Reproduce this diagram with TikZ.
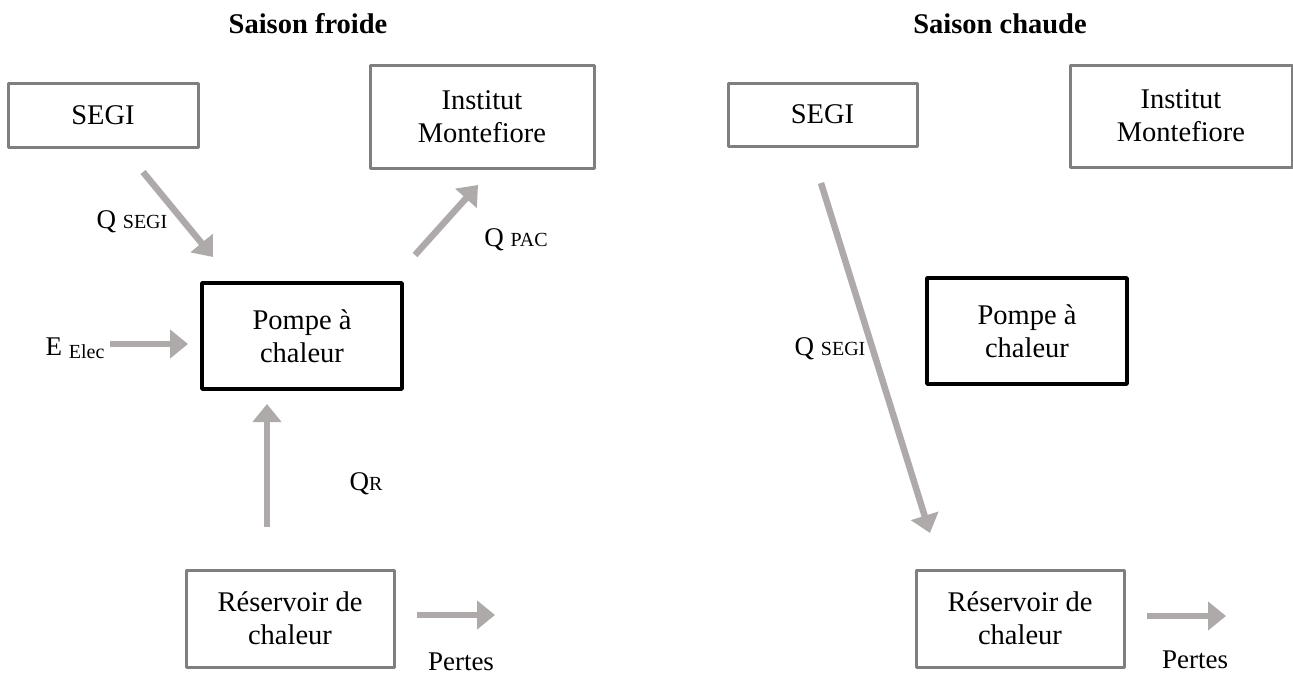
\documentclass[tikz,border=0pt]{standalone}
\usepackage{fontspec}
\setmainfont{Liberation Serif}
\usetikzlibrary{arrows.meta}
\definecolor{frame}{RGB}{127,127,127}
\definecolor{flowgray}{RGB}{174,170,170}
\newcommand{\subtxt}[1]{{\fontsize{20}{22}\selectfont #1}}
\tikzset{
  box/.style={draw=#1,line width=3pt,line join=round,align=center,inner sep=0pt,
    font=\fontsize{28.5}{33}\selectfont},
  box/.default=frame,
  flow/.style={-{Triangle[length=18pt,width=28pt]},line width=6.5pt,draw=flowgray},
  tag/.style={anchor=base,font=\fontsize{27}{30}\selectfont},
  heading/.style={anchor=base,font=\fontsize{28.5}{33}\selectfont\bfseries},
}

\begin{document}
\begin{tikzpicture}[x=1pt,y=-1pt]
    \useasboundingbox (0,0) rectangle (1293,675);
    % cold season
    \node[heading] (tcold) at (308,33) {Saison froide};
    \node[box,minimum width=190pt,minimum height=64pt] (segiA) at (103,115) {SEGI};
    \node[box,minimum width=224pt,minimum height=103pt] (instA) at (482,116.5) {Institut\\Montefiore};
    \node[box=black,line width=3.5pt,minimum width=200pt,minimum height=106pt] (pacA) at (302,336) {Pompe à\\chaleur};
    \node[box,minimum width=208pt,minimum height=97pt] (resA) at (290,618.5) {Réservoir de\\chaleur};
    \coordinate (qsA1) at (143,172);  \coordinate (qsA2) at (213,257);
    \coordinate (qpA1) at (415,255);  \coordinate (qpA2) at (478,185);
    \coordinate (elA1) at (110,344);  \coordinate (elA2) at (188,344);
    \coordinate (qrA1) at (267,527);  \coordinate (qrA2) at (267,404);
    \coordinate (loA1) at (417,615);  \coordinate (loA2) at (495,615);
    \draw[flow] (qsA1) -- (qsA2);
    \draw[flow] (qpA1) -- (qpA2);
    \draw[flow] (elA1) -- (elA2);
    \draw[flow] (qrA1) -- (qrA2);
    \draw[flow] (loA1) -- (loA2);
    \node[tag] (lqsA) at (132,228) {Q \subtxt{SEGI}};
    \node[tag] (lqpA) at (516,246) {Q \subtxt{PAC}};
    \node[tag] (lelA) at (75,355) {E \raisebox{-3pt}{\subtxt{Elec}}};
    \node[tag] (lqrA) at (366,490) {Q\subtxt{R}};
    \node[tag] (lloA) at (461,670) {Pertes};
    % warm season
    \node[heading] (twarm) at (1000,33) {Saison chaude};
    \node[box,minimum width=189pt,minimum height=63pt] (segiB) at (822.5,114.5) {SEGI};
    \node[box,minimum width=222pt,minimum height=102pt] (instB) at (1181,116) {Institut\\Montefiore};
    \node[box=black,line width=3.5pt,minimum width=200pt,minimum height=106pt] (pacB) at (1027,331) {Pompe à\\chaleur};
    \node[box,minimum width=208pt,minimum height=97pt] (resB) at (1020,618.5) {Réservoir de\\chaleur};
    \coordinate (qsB1) at (821,183);  \coordinate (qsB2) at (930,533);
    \coordinate (loB1) at (1147,616); \coordinate (loB2) at (1226,616);
    \draw[flow] (qsB1) -- (qsB2);
    \draw[flow] (loB1) -- (loB2);
    \node[tag] (lqsB) at (830,355) {Q \subtxt{SEGI}};
    \node[tag] (lloB) at (1195,668) {Pertes};
\end{tikzpicture}
\end{document}
